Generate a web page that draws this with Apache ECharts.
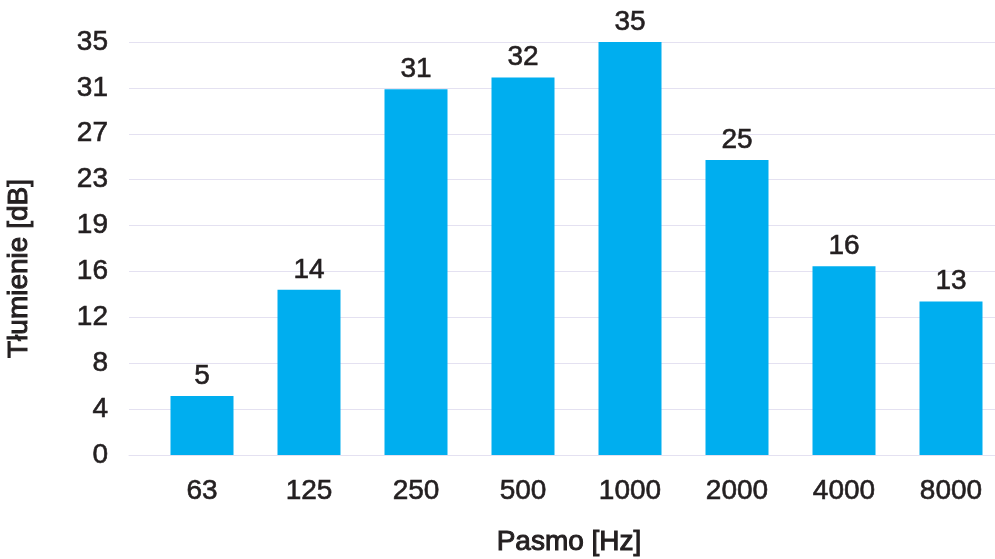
<!DOCTYPE html>
<html>
<head>
<meta charset="utf-8">
<script src="https://cdn.jsdelivr.net/npm/echarts@6/dist/echarts.min.js"></script>
<style>
html,body{margin:0;padding:0;background:#fff;overflow:hidden;width:995px;height:559px;}
#chart{width:1005px;height:559px;}
</style>
</head>
<body>
<div id="chart"></div>
<script>
const categories = ['63', '125', '250', '500', '1000', '2000', '4000', '8000'];
const values = [5, 14, 31, 32, 35, 25, 16, 13];
const yTickLabels = ['0', '4', '8', '12', '16', '19', '23', '27', '31', '35'];
const yMax = 35;
const xTitle = 'Pasmo [Hz]';
const yTitle = 'Tłumienie [dB]';

const FONT = '"Liberation Sans", Arial, Helvetica, sans-serif';
const TXT = '#231f20';
const GRID = '#e4e1f1';
const BAR = '#00aeef';
const yInterval = yMax / (yTickLabels.length - 1);
const thick = {textBorderColor: TXT, textBorderWidth: 0.6};
const thickT = {textBorderColor: TXT, textBorderWidth: 1.0};

const chart = echarts.init(document.getElementById('chart'), null, {renderer: 'canvas'});
chart.setOption({
  backgroundColor: '#ffffff',
  animation: false,
  grid: [
    {left: 129, right: 10, top: 42, bottom: 104, containLabel: false, outerBoundsMode: 'none'},
    {left: 148.5, right: 0.5, top: 42, bottom: 104, containLabel: false, outerBoundsMode: 'none'}
  ],
  xAxis: [
    {
      gridIndex: 0, type: 'value', min: 0, max: 1,
      axisLine: {show: true, lineStyle: {color: GRID, width: 1}},
      axisTick: {show: false}, axisLabel: {show: false}, splitLine: {show: false}
    },
    {
      gridIndex: 1, type: 'category', data: categories,
      axisLine: {show: false}, axisTick: {show: false},
      axisLabel: Object.assign({color: TXT, fontSize: 28, fontFamily: FONT, margin: 22}, thick),
      name: xTitle, nameLocation: 'middle', nameGap: 73,
      nameTextStyle: Object.assign({color: TXT, fontSize: 28, fontFamily: FONT, padding: [0, 15, 0, 0]}, thickT)
    }
  ],
  yAxis: [
    {
      gridIndex: 0, type: 'value', min: 0, max: yMax, interval: yInterval,
      axisLine: {show: false}, axisTick: {show: false},
      axisLabel: Object.assign({
        color: TXT, fontSize: 28, fontFamily: FONT, margin: 21,
        formatter: v => yTickLabels[Math.round(v / yInterval)]
      }, thick),
      splitLine: {show: true, lineStyle: {color: GRID, width: 1}},
      name: yTitle, nameLocation: 'middle', nameRotate: 90, nameGap: 96,
      nameTextStyle: Object.assign({color: TXT, fontSize: 28, fontFamily: FONT, padding: [0, 40, 0, 0]}, thickT)
    },
    {
      gridIndex: 1, type: 'value', min: 0, max: yMax, interval: yInterval,
      show: false, splitLine: {show: false}
    }
  ],
  series: [{
    type: 'bar', xAxisIndex: 1, yAxisIndex: 1,
    data: values, barWidth: 63,
    itemStyle: {color: BAR},
    label: Object.assign({show: true, position: 'top', distance: 6, color: TXT, fontSize: 28, fontFamily: FONT}, thick)
  }]
});
</script>
</body>
</html>
